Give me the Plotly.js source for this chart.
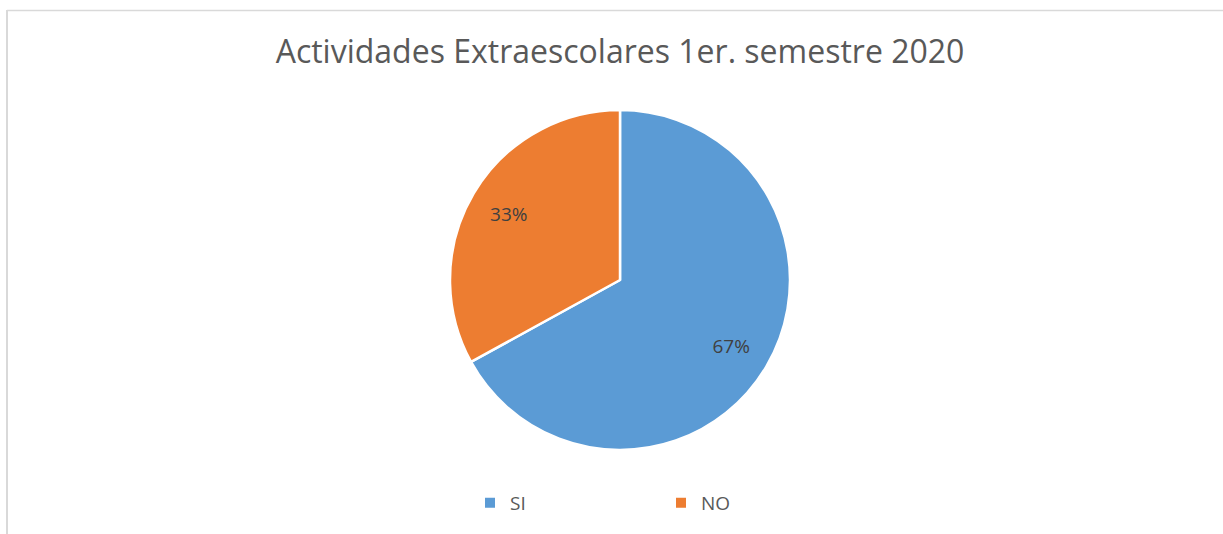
<!DOCTYPE html>
<html>
<head>
<meta charset="utf-8">
<script src="https://cdn.plot.ly/plotly-3.0.1.min.js"></script>
<style>html,body{margin:0;padding:0;background:#fff;}#chart{width:1223px;height:534px;}</style>
</head>
<body>
<div id="chart"></div>
<script>
const categories = ["SI", "NO"];
const values = [67, 33];
const colors = ["#5B9BD5", "#ED7D31"];
const chartTitle = "Actividades Extraescolares 1er. semestre 2020";

const W = 1223, H = 534;
const cx = 620, cy = 280, R = 170;
const dom = { x: [(cx - R) / W, (cx + R) / W], y: [1 - (cy + R) / H, 1 - (cy - R) / H] };

const data = [{
  type: "pie",
  labels: categories,
  values: values,
  sort: false,
  direction: "clockwise",
  rotation: 0,
  marker: { colors: colors, line: { color: "#ffffff", width: 2.5 } },
  textinfo: "none",
  hoverinfo: "label+percent",
  domain: dom
}, {
  type: "pie",
  labels: categories,
  values: values,
  sort: false,
  direction: "clockwise",
  rotation: 0,
  hole: 0.52,
  showlegend: false,
  marker: { colors: ["rgba(0,0,0,0)", "rgba(0,0,0,0)"], line: { width: 0 } },
  textinfo: "percent",
  texttemplate: "%{percent:.0%}",
  textposition: "inside",
  insidetextorientation: "horizontal",
  textfont: { family: "Open Sans, sans-serif", size: 19, color: "#404040" },
  hoverinfo: "skip",
  domain: dom
}];

const layout = {
  width: W, height: H,
  margin: { l: 0, r: 0, t: 0, b: 0 },
  paper_bgcolor: "#ffffff",
  title: {
    text: chartTitle,
    font: { family: "Open Sans, sans-serif", size: 32, color: "#595959" },
    x: 620 / W, xanchor: "center",
    y: 1 - 52 / H, yanchor: "middle"
  },
  showlegend: true,
  legend: {
    orientation: "h",
    x: 470 / W, xanchor: "left",
    y: 1 - 503 / H, yanchor: "middle",
    entrywidth: 146, entrywidthmode: "pixels",
    font: { family: "Open Sans, sans-serif", size: 19, color: "#595959" },
    itemsizing: "constant"
  },
  shapes: [
    { type: "line", xref: "paper", yref: "paper", x0: 7 / W, x1: 1, y0: 1 - 10.5 / H, y1: 1 - 10.5 / H, line: { color: "#D9D9D9", width: 1.5 } },
    { type: "line", xref: "paper", yref: "paper", x0: 7 / W, x1: 7 / W, y0: 0, y1: 1 - 10 / H, line: { color: "#D9D9D9", width: 2 } }
  ]
};

Plotly.newPlot("chart", data, layout, { displayModeBar: false, staticPlot: true });
</script>
</body>
</html>
